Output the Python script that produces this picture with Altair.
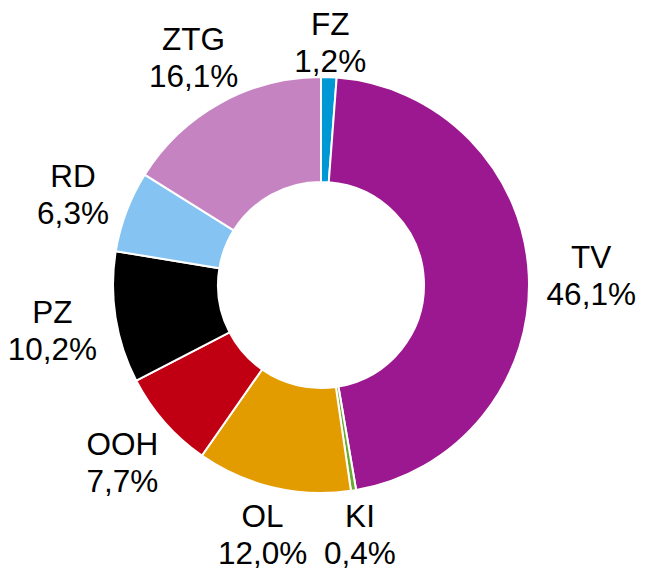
import altair as alt
import pandas as pd

categories = ["FZ", "TV", "KI", "OL", "OOH", "PZ", "RD", "ZTG"]
values = [1.2, 46.1, 0.4, 12.0, 7.7, 10.2, 6.3, 16.1]
colors = ["#0098D4", "#9C1890", "#6AAA2E", "#E39C00", "#C00012", "#000000", "#85C4F2", "#C584C1"]

df = pd.DataFrame({
    "cat": categories,
    "value": values,
    "order": list(range(len(categories))),
})
df["pct"] = [f"{v:.1f}".replace(".", ",") + "%" for v in values]
df["label"] = df["cat"] + "\n" + df["pct"]

CX, CY = 313, 277
R_OUT, R_IN = 208, 103
R_LAB = 226
LH = 37
SHIFT = 5

base = alt.Chart(df)

arcs = base.mark_arc(radius=R_OUT, radius2=R_IN, stroke="white", strokeWidth=2).encode(
    theta=alt.Theta("value:Q", stack=True),
    order=alt.Order("order:Q"),
    color=alt.Color("cat:N", scale=alt.Scale(domain=categories, range=colors), legend=None),
    x=alt.value(CX),
    y=alt.value(CY),
)

labels = base.transform_window(
    cum="sum(value)", sort=[alt.SortField("order")], frame=[None, 0]
).transform_calculate(
    mid="(datum.cum - datum.value / 2) / 100 * 2 * PI",
    w="max(length(datum.cat), length(datum.pct)) * 17.5",
).transform_calculate(
    d=f"{R_LAB} + abs(sin(datum.mid)) * datum.w / 2 + abs(cos(datum.mid)) * 18",
).transform_calculate(
    lx=f"{CX} + datum.d * sin(datum.mid)",
    ly=f"{CY} + {SHIFT} - datum.d * cos(datum.mid) - {LH / 2}",
).mark_text(
    font="Liberation Sans", fontSize=31.5, lineBreak="\n", lineHeight=LH,
    align="center", baseline="middle", color="black",
).encode(
    x=alt.X("lx:Q", scale=None),
    y=alt.Y("ly:Q", scale=None),
    text="label:N",
)

chart = alt.layer(arcs, labels).properties(
    width=638, height=562, autosize="none", padding=0
).configure_view(stroke=None)

chart.save("out.html", embed_options={"renderer": "svg", "actions": False})
